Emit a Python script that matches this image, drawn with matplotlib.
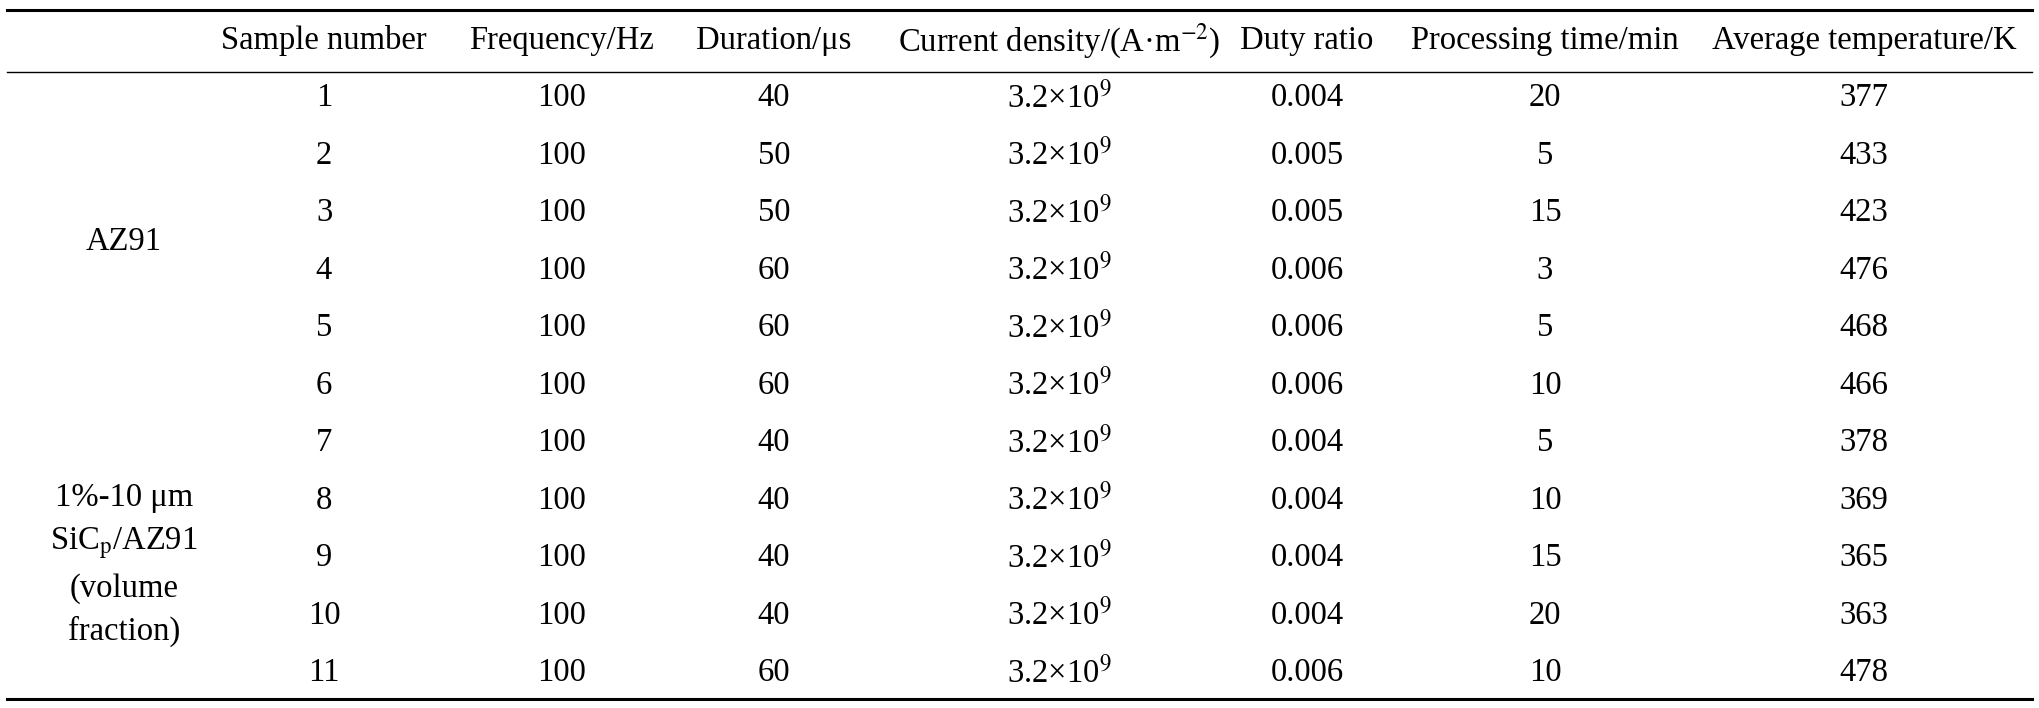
import matplotlib
matplotlib.use("Agg")
import matplotlib.pyplot as plt

plt.rcParams['font.family'] = ['Liberation Serif', 'DejaVu Serif']
plt.rcParams['mathtext.fontset'] = 'stix'

headers = ['Sample number', 'Frequency/Hz', 'Duration/\u03bcs',
           'Current density/(A\u00b7m$^{\\mathrm{-2}}$)', 'Duty ratio',
           'Processing time/min', 'Average temperature/K']
samples = [1, 2, 3, 4, 5, 6, 7, 8, 9, 10, 11]
frequency = [100] * 11
duration = [40, 50, 50, 60, 60, 60, 40, 40, 40, 40, 60]
current = ['3.2\u00d710$^{9}$'] * 11
duty = ['0.004', '0.005', '0.005', '0.006', '0.006', '0.006',
        '0.004', '0.004', '0.004', '0.004', '0.006']
proc_time = [20, 5, 15, 3, 5, 10, 5, 10, 15, 20, 10]
avg_temp = [377, 433, 423, 476, 468, 466, 378, 369, 365, 363, 478]
groups = ['AZ91', '1%-10 \u03bcm\nSiC$_{\\mathrm{p}}$/AZ91\n(volume\nfraction)']

W, H = 2039, 708
fig = plt.figure(figsize=(W / 100, H / 100), dpi=100)
ax = fig.add_axes([0, 0, 1, 1])
ax.set_xlim(0, W)
ax.set_ylim(H, 0)
ax.axis('off')

col_x = [324, 562, 774, 1059, 1307, 1545, 1864]
fs = 23.5

ax.plot([7, 2032], [10, 10], color='black', lw=2.2)
ax.plot([7, 2032], [72, 72], color='black', lw=1.0)
ax.plot([7, 2032], [699, 699], color='black', lw=2.2)

for x, h in zip(col_x, headers):
    ax.text(x, 41, h, ha='center', va='center', fontsize=fs)

row_y0, dy = 98, 57.5
for i in range(len(samples)):
    y = row_y0 + i * dy
    vals = [samples[i], frequency[i], duration[i], current[i], duty[i],
            proc_time[i], avg_temp[i]]
    for x, v in zip(col_x, vals):
        ax.text(x, y, str(v), ha='center', va='center', fontsize=fs)

ax.text(124, row_y0 + 2.5 * dy, groups[0], ha='center', va='center', fontsize=fs)
ax.text(124, 565, groups[1], ha='center', va='center', fontsize=fs,
        linespacing=1.5)

fig.savefig('out.png', dpi=100)
